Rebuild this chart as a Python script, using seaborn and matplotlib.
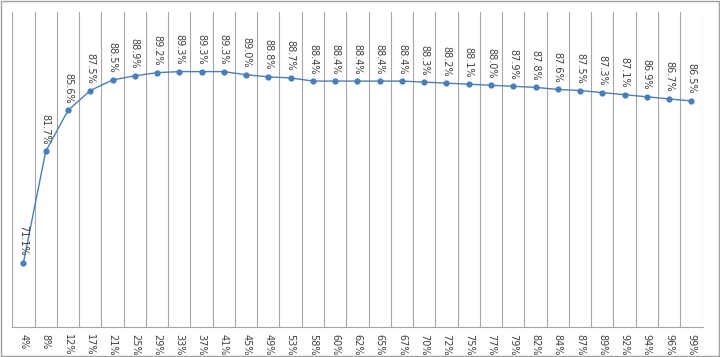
import matplotlib
matplotlib.use("Agg")
import matplotlib.pyplot as plt
import seaborn as sns
import pandas as pd
from matplotlib.ticker import FixedLocator

categories = ["4%", "8%", "12%", "17%", "21%", "25%", "29%", "33%", "37%", "41%",
              "45%", "49%", "53%", "58%", "60%", "62%", "65%", "67%", "70%", "72%",
              "75%", "77%", "79%", "82%", "84%", "87%", "89%", "92%", "94%", "96%", "99%"]
values = [71.1, 81.7, 85.6, 87.5, 88.5, 88.9, 89.2, 89.3, 89.3, 89.3,
          89.0, 88.8, 88.7, 88.4, 88.4, 88.4, 88.4, 88.4, 88.3, 88.2,
          88.1, 88.0, 87.9, 87.8, 87.6, 87.5, 87.3, 87.1, 86.9, 86.7, 86.5]

sns.set_theme(style="white")
plt.rcParams['font.family'] = ['DejaVu Sans']

df = pd.DataFrame({"cat": categories, "val": values})

fig = plt.figure(figsize=(7.2, 3.57), dpi=100)
ax = fig.add_axes([0.0171, 0.0849, 0.9586, 0.8821])

line_color = "#4a7ebb"
sns.lineplot(data=df, x="cat", y="val", ax=ax, color=line_color, linewidth=1.0,
             marker="o", markersize=4.5, markeredgewidth=0, sort=False)

n = len(categories)
ax.set_xlim(-0.5, n - 0.5)
ax.set_ylim(65, 95)

# category boundary lines
ax.xaxis.set_minor_locator(FixedLocator([i + 0.5 for i in range(-1, n)]))
ax.grid(which="minor", axis="x", color="#a6a6a6", linewidth=0.8)
ax.grid(which="major", visible=False)
ax.set_axisbelow(True)

ax.set_xticks(range(n))
ax.set_xticklabels(categories, rotation=-90, fontsize=7, color="#404040")
ax.tick_params(axis="x", which="both", length=0, pad=5)
ax.set_yticks([])
ax.set_xlabel("")
ax.set_ylabel("")

for s in ["top", "left", "right"]:
    ax.spines[s].set_visible(False)
ax.spines["bottom"].set_color("#a6a6a6")
ax.spines["bottom"].set_linewidth(0.8)

for i, v in enumerate(values):
    ax.annotate(f"{v:.1f}%", xy=(i, v), xytext=(0, 5), textcoords="offset points",
                rotation=-90, ha="center", va="bottom", fontsize=7, color="#404040")

# outer border
fig.patches.append(plt.Rectangle((0.002, 0.003), 0.996, 0.994, transform=fig.transFigure,
                                 fill=False, edgecolor="#a0a0a0", linewidth=1.0))

fig.savefig("out.png", dpi=100)
